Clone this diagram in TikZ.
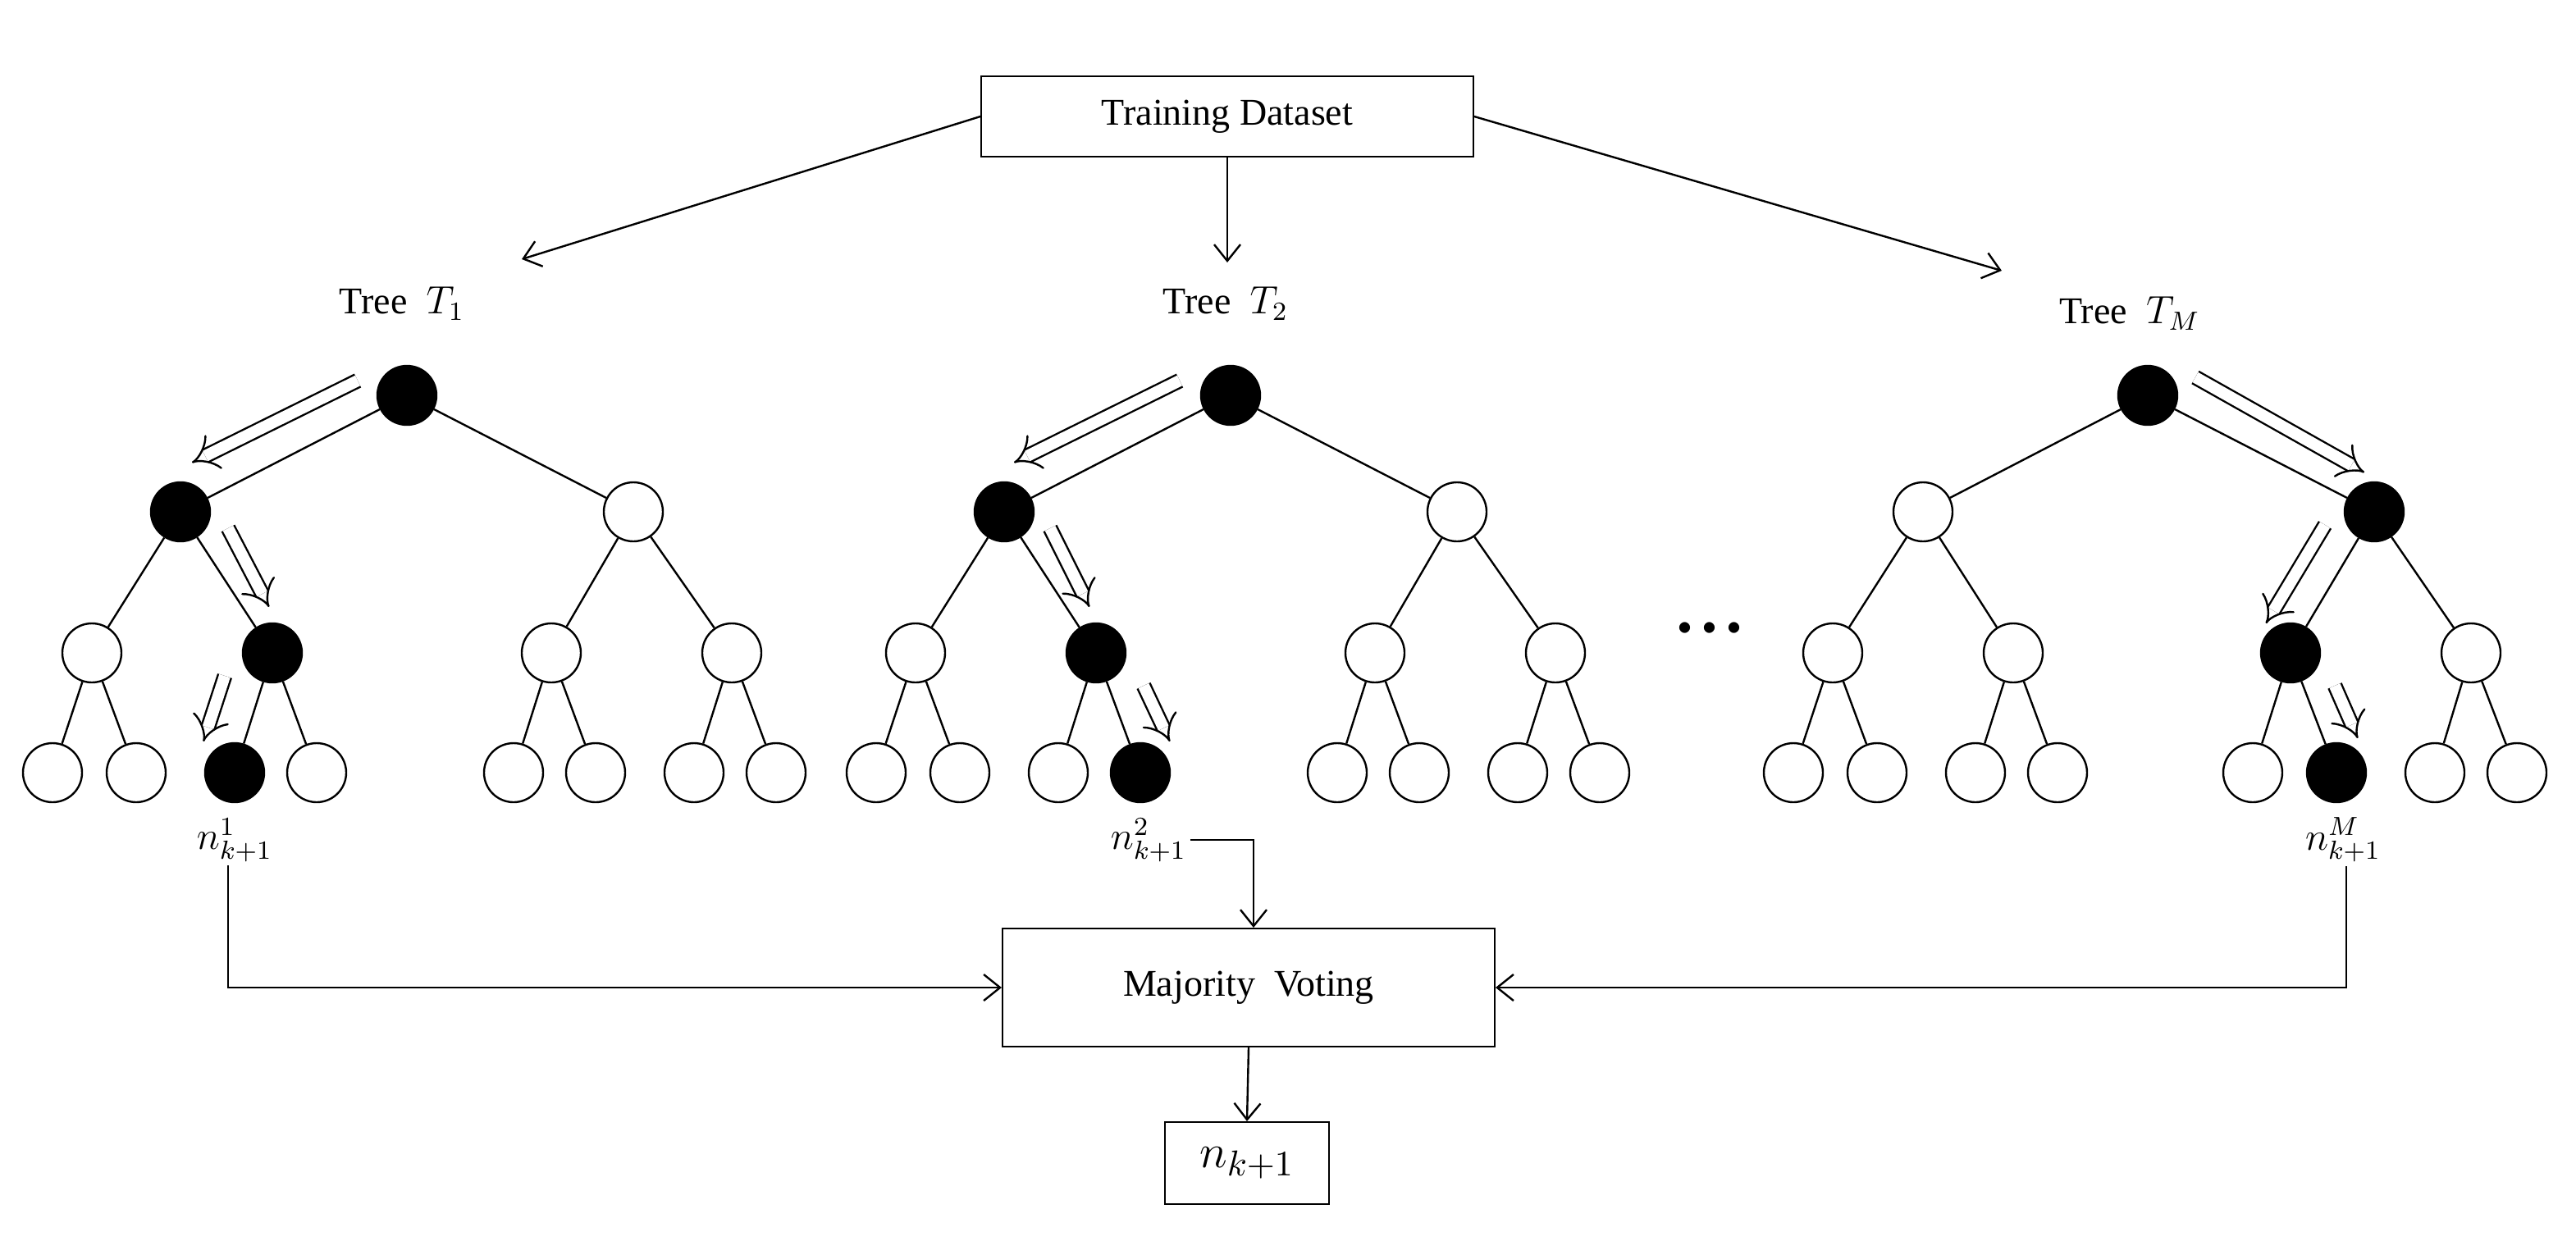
\documentclass[tikz,border=0pt]{standalone}
\usepackage{fontspec}
\setmainfont{Liberation Serif}
\usetikzlibrary{arrows.meta}
\begin{document}
\begin{tikzpicture}[x=0.5pt,y=-0.5pt,
  every node/.style={font=\fontsize{11.5}{13}\selectfont},
  w/.style={circle,draw,fill=white,minimum size=18pt,inner sep=0pt,line width=0.6pt},
  b/.style={circle,draw,fill=black,minimum size=18pt,inner sep=0pt,line width=0.6pt},
  box/.style={draw,line width=0.5pt,inner sep=0pt},
  arr/.style={-{Straight Barb[length=5pt,width=8pt]},line width=0.6pt},
  dbl/.style={double,double distance=3.5pt,line width=0.6pt,-{Implies}},
  edge/.style={line width=0.6pt}]
\useasboundingbox (0,0) rectangle (1570,756);
\node[box,minimum width=150pt,minimum height=24.5pt] (td) at (748,71) {Training Dataset};
\node (t1) at (245,185) {Tree\ \ $T_1$};
\node (t2) at (747,185) {Tree\ \ $T_2$};
\node (t3) at (1298,191) {Tree\ \ $T_M$};
\coordinate (a1) at (318,158); \coordinate (a2) at (748,160); \coordinate (a3) at (1220,165);
\draw[arr] (td.west) -- (a1);
\draw[arr] (td.south) -- (a2);
\draw[arr] (td.east) -- (a3);
\newcommand{\mytree}[6]{%
 \begin{scope}[xshift=#2*0.5pt]
 \node[b] (#1r) at (248,241) {};
 \node[#3] (#1a) at (110,312) {}; \node[w] (#1b) at (386,312) {};
 \node[w] (#1c) at (56,398) {}; \node[#4] (#1d) at (166,398) {};
 \node[w] (#1e) at (336,398) {}; \node[w] (#1f) at (446,398) {};
 \node[w] (#1g) at (32,471) {}; \node[w] (#1h) at (83,471) {};
 \node[#5] (#1i) at (143,471) {}; \node[#6] (#1j) at (193,471) {};
 \node[w] (#1k) at (313,471) {}; \node[w] (#1l) at (363,471) {};
 \node[w] (#1m) at (423,471) {}; \node[w] (#1n) at (473,471) {};
 \end{scope}
 \foreach \p/\c in {r/a,r/b,a/c,a/d,b/e,b/f,c/g,c/h,d/i,d/j,e/k,e/l,f/m,f/n}
   \draw[edge] (#1\p) -- (#1\c);
}
\mytree{A}{0}{b}{b}{b}{w}
\mytree{B}{502}{b}{b}{w}{b}
\begin{scope}[xshift=1061*0.5pt]
 \node[b] (Cr) at (248,241) {};
 \node[w] (Ca) at (111,312) {}; \node[b] (Cb) at (386,312) {};
 \node[w] (Cc) at (56,398) {}; \node[w] (Cd) at (166,398) {};
 \node[b] (Ce) at (335,398) {}; \node[w] (Cf) at (445,398) {};
 \node[w] (Cg) at (32,471) {}; \node[w] (Ch) at (83,471) {};
 \node[w] (Ci) at (143,471) {}; \node[w] (Cj) at (193,471) {};
 \node[w] (Ck) at (312,471) {}; \node[b] (Cl) at (363,471) {};
 \node[w] (Cm) at (423,471) {}; \node[w] (Cn) at (473,471) {};
\end{scope}
\foreach \p/\c in {r/a,r/b,a/c,a/d,b/e,b/f,c/g,c/h,d/i,d/j,e/k,e/l,f/m,f/n}
  \draw[edge] (C\p) -- (C\c);
\node (dots) at (1042,383) {\fontsize{8}{8}\selectfont$\bullet\,\bullet\,\bullet$};
\coordinate (d1s) at (218,232); \coordinate (d1e) at (117,282);
\coordinate (d2s) at (139,322); \coordinate (d2e) at (164,370);
\coordinate (d3s) at (137,412); \coordinate (d3e) at (124,452);
\coordinate (d4s) at (719,232); \coordinate (d4e) at (618,282);
\coordinate (d5s) at (640,322); \coordinate (d5e) at (664,370);
\coordinate (d6s) at (697,418); \coordinate (d6e) at (713,452);
\coordinate (d7s) at (1338,230); \coordinate (d7e) at (1441,288);
\coordinate (d8s) at (1417,320); \coordinate (d8e) at (1381,380);
\coordinate (d9s) at (1423,418); \coordinate (d9e) at (1437,450);
\foreach \i in {1,...,9} \draw[dbl] (d\i s) -- (d\i e);
\node[inner sep=1pt] (n1) at (143,512) {$n^1_{k+1}$};
\node[inner sep=1pt] (n2) at (700,512) {$n^2_{k+1}$};
\node[inner sep=1pt] (n3) at (1428,512) {$n^M_{k+1}$};
\node[box,minimum width=150pt,minimum height=36pt] (mv) at (761,602) {Majority\ \ Voting};
\node[box,minimum width=50pt,minimum height=25pt,font=\fontsize{15}{17}\selectfont] (out) at (760,709) {$n_{k+1}$};
\draw[arr] (n1.south -| 139,0) |- (mv.west);
\draw[arr] (n2.east) -| (mv.north -| 764,0);
\draw[arr] (n3.south -| 1430,0) |- (mv.east);
\draw[arr] (mv.south) -- (out.north);
\end{tikzpicture}
\end{document}
